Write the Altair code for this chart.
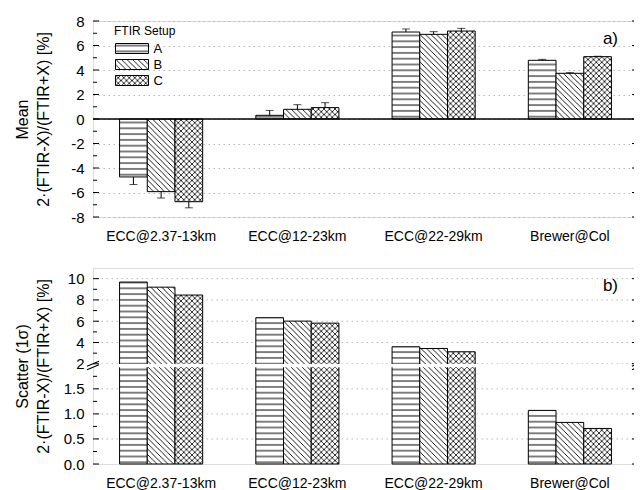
import altair as alt
import pandas as pd
import jinja2

# ---------------- data ----------------
categories = ["ECC@2.37-13km", "ECC@12-23km", "ECC@22-29km", "Brewer@Col"]
setups = ["A", "B", "C"]

mean_A = [-4.73, 0.30, 7.10, 4.79]
mean_B = [-5.93, 0.79, 6.91, 3.73]
mean_C = [-6.75, 0.93, 7.18, 5.09]
err_A = [0.62, 0.40, 0.25, 0.08]
err_B = [0.52, 0.38, 0.22, 0.05]
err_C = [0.50, 0.40, 0.22, 0.03]

scatter_A = [9.68, 6.33, 3.60, 1.07]
scatter_B = [9.20, 6.01, 3.44, 0.83]
scatter_C = [8.46, 5.82, 3.13, 0.71]

mean_major = [-8, -6, -4, -2, 0, 2, 4, 6, 8]
mean_minor = [-7, -5, -3, -1, 1, 3, 5, 7]

scatter_major = [0.0, 0.5, 1.0, 1.5, 2, 4, 6, 8, 10]
scatter_minor = [0.25, 0.75, 1.25, 1.75, 3, 5, 7, 9]
scatter_grid = [0.5, 1.0, 1.5, 2, 4, 6, 8, 10]
scatter_top = 11
BREAK = 2.0
K = 0.2125  # compression of the part of the axis above the break

W, H = 545, 196
FONT = "Liberation Sans"
fills = ["url(#hatchA)", "url(#hatchB)", "url(#hatchC)"]


def to_t(v):
    return v if v <= BREAK else BREAK + (v - BREAK) * K


rows = []
for i, c in enumerate(categories):
    for s, m, e in zip(setups, (mean_A, mean_B, mean_C), (err_A, err_B, err_C)):
        v = m[i]
        rows.append({"cat": c, "setup": s, "value": v,
                     "end": v + (e[i] if v >= 0 else -e[i])})
df_mean = pd.DataFrame(rows)

rows = []
for i, c in enumerate(categories):
    for s, sc in zip(setups, (scatter_A, scatter_B, scatter_C)):
        rows.append({"cat": c, "setup": s, "value": sc[i], "t": to_t(sc[i])})
df_sc = pd.DataFrame(rows)

xenc = alt.X("cat:N", sort=categories, title=None,
             scale=alt.Scale(paddingInner=0.39, paddingOuter=0.195),
             axis=alt.Axis(labelAngle=0, ticks=False, domain=False, labelFontSize=14,
                           labelPadding=12, labelColor="black", labelFont=FONT))
xoff = alt.XOffset("setup:N", sort=setups, scale=alt.Scale(paddingInner=0, paddingOuter=0))

# ---------------- panel a ----------------
ydom_a = alt.Scale(domain=[-8, 8], nice=False, zero=False)
yaxis_a = alt.Axis(values=mean_major, grid=True, gridDash=[1.5, 3.5], gridColor="#b8b8b8",
                   gridWidth=1, ticks=False, domain=False, labelFontSize=15,
                   labelExpr="datum.value < 0 ? '-' + format(-datum.value, 'd') : format(datum.value, 'd')",
                   labelOverlap=False, labelColor="black", labelPadding=9, labelFont=FONT,
                   title=["Mean", "2·(FTIR-X)/(FTIR+X) [%]"], titleFontSize=16,
                   titleLineHeight=21,
                   titleFontWeight="normal", titleColor="black", titlePadding=19,
                   titleFont=FONT)


def ya(field):
    return alt.Y(f"{field}:Q", scale=ydom_a, axis=yaxis_a)


bars_a = alt.Chart(df_mean).mark_bar(stroke="black", strokeWidth=1).encode(
    x=xenc, xOffset=xoff, y=ya("value"), y2=alt.datum(0),
    fill=alt.Fill("setup:N", sort=setups,
                  scale=alt.Scale(domain=setups, range=fills),
                  legend=alt.Legend(title="FTIR Setup", orient="none", legendX=21, legendY=5,
                                    titleFontSize=12, titleFontWeight="normal", titleFont=FONT,
                                    titleColor="black", labelFontSize=13, labelFont=FONT,
                                    labelColor="black",
                                    symbolType="M-3.3,-1L3.3,-1L3.3,1L-3.3,1Z",
                                    symbolSize=100, symbolOffset=11.5, symbolStrokeColor="black",
                                    symbolStrokeWidth=1, rowPadding=1, labelOffset=15,
                                    titlePadding=4)),
)
err_rule = alt.Chart(df_mean).mark_rule(color="black", strokeWidth=1).encode(
    x=xenc, xOffset=xoff, y=ya("value"), y2="end:Q")
err_cap = alt.Chart(df_mean).mark_tick(color="black", thickness=1, size=8,
                                       orient="horizontal").encode(
    x=xenc, xOffset=xoff, y=ya("end"))
zero = alt.Chart(pd.DataFrame({"z": [0]})).mark_rule(color="black", strokeWidth=1.5).encode(
    y=ya("z"))


def tick_layers(df, length, yfun):
    left = alt.Chart(df).mark_rule(color="black", strokeWidth=1).encode(
        y=yfun("v"), x=alt.value(0), x2=alt.value(length))
    right = alt.Chart(df).mark_rule(color="black", strokeWidth=1).encode(
        y=yfun("v"), x=alt.value(W - length), x2=alt.value(W))
    return [left, right]


label_a = alt.Chart(pd.DataFrame({"txt": ["a)"]})).mark_text(
    fontSize=17, font=FONT, align="right", baseline="middle", color="black").encode(
    text="txt:N", x=alt.value(W - 20), y=alt.value(18))

panel_a = alt.layer(
    bars_a, err_rule, err_cap, zero,
    *tick_layers(pd.DataFrame({"v": mean_major}), 6, ya),
    *tick_layers(pd.DataFrame({"v": mean_minor}), 4, ya),
    label_a,
).properties(width=W, height=H)

# ---------------- panel b (broken axis) ----------------
t_top = to_t(scatter_top)
ydom_b = alt.Scale(domain=[0, t_top], nice=False, zero=False)
label_expr = (f"datum.value > {BREAK + 0.01} ? format({BREAK} + (datum.value - {BREAK}) / {K}, '.0f')"
              f" : (datum.value > {BREAK - 0.01} ? '2' : format(datum.value, '.1f'))")
yaxis_b = alt.Axis(values=[to_t(v) for v in scatter_major], labelExpr=label_expr,
                   labelOverlap=False, grid=False, ticks=False, domain=False, labelFontSize=15,
                   labelColor="black", labelPadding=9, labelFont=FONT,
                   title=["Scatter (1σ)", "2·(FTIR-X)/(FTIR+X) [%]"], titleFontSize=16,
                   titleLineHeight=21,
                   titleFontWeight="normal", titleColor="black", titlePadding=12,
                   titleFont=FONT)


def yb(field):
    return alt.Y(f"{field}:Q", scale=ydom_b, axis=yaxis_b)


bars_b = alt.Chart(df_sc).mark_bar(stroke="black", strokeWidth=1).encode(
    x=xenc, xOffset=xoff, y=yb("t"), y2=alt.datum(0),
    fill=alt.Fill("setup:N", sort=setups, scale=alt.Scale(domain=setups, range=fills),
                  legend=None),
)
grid_b = alt.Chart(pd.DataFrame({"v": [to_t(v) for v in scatter_grid]})).mark_rule(
    color="#b8b8b8", strokeWidth=1, strokeDash=[1.5, 3.5]).encode(y=yb("v"))

gap = alt.Chart(pd.DataFrame({"a": [1.93], "b": [1.995]})).mark_rect(color="white").encode(
    y=yb("a"), y2="b:Q", x=alt.value(-2), x2=alt.value(W + 2))

brk = pd.DataFrame({"lo": [1.88, 1.95], "hi": [1.98, 2.05]})
brk_l = alt.Chart(brk).mark_rule(color="black", strokeWidth=1.2).encode(
    y=yb("lo"), y2="hi:Q", x=alt.value(-6), x2=alt.value(6))
brk_r = alt.Chart(brk).mark_rule(color="black", strokeWidth=1.2).encode(
    y=yb("lo"), y2="hi:Q", x=alt.value(W - 6), x2=alt.value(W + 5))

label_b = alt.Chart(pd.DataFrame({"txt": ["b)"]})).mark_text(
    fontSize=17, font=FONT, align="right", baseline="middle", color="black").encode(
    text="txt:N", x=alt.value(W - 20), y=alt.value(18))

panel_b = alt.layer(
    grid_b, bars_b, gap, brk_l, brk_r,
    *tick_layers(pd.DataFrame({"v": [to_t(v) for v in scatter_major]}), 6, yb),
    *tick_layers(pd.DataFrame({"v": [to_t(v) for v in scatter_minor]}), 4, yb),
    label_b,
).properties(width=W, height=H)

chart = alt.vconcat(panel_a, panel_b, spacing=23).resolve_scale(
    fill="independent", y="independent").resolve_legend(fill="independent").properties(
    padding={"left": 5, "top": 5, "right": 0, "bottom": 0}
).configure_view(stroke="black", strokeWidth=1.5).configure(font=FONT)

PATTERNS = """
<svg width="0" height="0" style="position:absolute;left:0;top:0" aria-hidden="true">
 <defs>
  <pattern id="hatchA" patternUnits="userSpaceOnUse" width="10" height="5.8">
   <rect width="10" height="5.8" fill="white"/>
   <path d="M0,2.9 H10" stroke="black" stroke-width="1"/>
  </pattern>
  <pattern id="hatchB" patternUnits="userSpaceOnUse" width="5.5" height="5.5">
   <rect width="5.5" height="5.5" fill="white"/>
   <path d="M-1,-1 L6.5,6.5 M-1,4.5 L1,6.5 M4.5,-1 L6.5,1" stroke="black" stroke-width="0.9"/>
  </pattern>
  <pattern id="hatchC" patternUnits="userSpaceOnUse" width="5.5" height="5.5">
   <rect width="5.5" height="5.5" fill="white"/>
   <path d="M-1,-1 L6.5,6.5 M-1,4.5 L1,6.5 M4.5,-1 L6.5,1 M-1,6.5 L6.5,-1 M-1,1 L1,-1 M4.5,6.5 L6.5,4.5" stroke="black" stroke-width="0.8"/>
  </pattern>
 </defs>
</svg>
"""

TEMPLATE = jinja2.Template("""<!DOCTYPE html>
<html>
<head>
  <meta charset="utf-8">
  <style>
    html { overflow: hidden; }
    #{{ output_div }}.vega-embed { width: 100%; display: flex; }
    #{{ output_div }}.vega-embed > svg { flex-shrink: 0; max-width: none; }
    #{{ output_div }}.vega-embed details,
    #{{ output_div }}.vega-embed details summary { position: relative; }
  </style>
  <script type="text/javascript" src="{{ base_url }}/vega@{{ vega_version }}"></script>
  <script type="text/javascript" src="{{ base_url }}/vega-lite@{{ vegalite_version }}"></script>
  <script type="text/javascript" src="{{ base_url }}/vega-embed@{{ vegaembed_version }}"></script>
</head>
<body>
""" + PATTERNS + """
  <div id="{{ output_div }}"></div>
  <script>
    (function(vegaEmbed) {
      var spec = {{ spec }};
      var embedOpt = {{ embed_options }};
      function showError(el, error){
          el.innerHTML = ('<div style="color:red;"><p>JavaScript Error: ' + error.message + '</p></div>');
          throw error;
      }
      const el = document.getElementById('{{ output_div }}');
      vegaEmbed("#{{ output_div }}", spec, embedOpt)
        .catch(error => showError(el, error));
    })(vegaEmbed);
  </script>
</body>
</html>
""")

chart.save("out.html", embed_options={"renderer": "svg", "actions": False}, template=TEMPLATE)
